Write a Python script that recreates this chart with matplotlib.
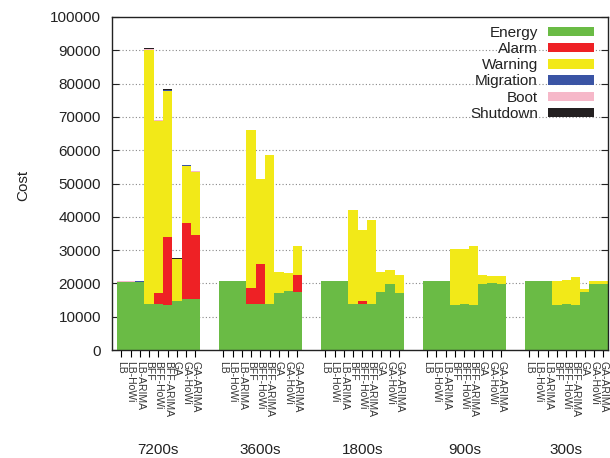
import matplotlib
matplotlib.use("Agg")
import matplotlib.pyplot as plt
from matplotlib.patches import Patch
import numpy as np

plt.rcParams['font.family'] = ['Liberation Sans', 'DejaVu Sans']

groups = ["7200s", "3600s", "1800s", "900s", "300s"]
methods = ["LB", "LB-HoWi", "LB-ARIMA", "BFF", "BFF-HoWi", "BFF-ARIMA",
           "GA", "GA-HoWi", "GA-ARIMA"]
series_names = ["Energy", "Alarm", "Warning", "Migration", "Boot", "Shutdown"]
colors = ["#6abb45", "#ee2125", "#f2e918", "#3a54a4", "#f6b8c9", "#231f20"]

# values per group, 9 bars each (order as methods)
energy = [
    [20500, 20500, 20500, 13800, 13800, 13500, 14700, 15300, 15300],
    [20700, 20700, 20700, 13900, 13900, 13700, 17200, 17700, 17500],
    [20700, 20700, 20700, 13800, 13800, 13800, 17400, 19800, 17100],
    [20700, 20700, 20700, 13500, 13800, 13500, 19800, 20100, 19800],
    [20700, 20700, 20700, 13500, 13800, 13500, 17400, 19800, 19800],
]
alarm = [
    [0, 0, 0, 0, 3300, 20400, 0, 22900, 19200],
    [0, 0, 0, 4700, 12000, 0, 0, 0, 5000],
    [0, 0, 0, 0, 900, 0, 0, 0, 0],
    [0, 0, 0, 0, 0, 0, 0, 0, 0],
    [0, 0, 0, 0, 0, 0, 0, 0, 0],
]
warning = [
    [0, 0, 0, 76200, 51700, 43900, 12500, 17100, 19000],
    [0, 0, 0, 47500, 25500, 44900, 6200, 5400, 8700],
    [0, 0, 0, 28200, 21300, 25200, 6000, 4200, 5400],
    [0, 0, 0, 16800, 16500, 17700, 2700, 2100, 2400],
    [0, 0, 0, 7200, 7200, 8400, 900, 900, 900],
]
migration = [
    [0, 0, 150, 200, 0, 300, 150, 150, 100],
    [0, 0, 0, 0, 0, 0, 0, 0, 0],
    [0, 0, 0, 0, 0, 0, 0, 0, 0],
    [0, 0, 0, 0, 0, 0, 0, 0, 0],
    [0, 0, 0, 0, 0, 0, 0, 0, 0],
]
boot = [
    [300, 200, 0, 300, 400, 0, 0, 0, 300],
    [150, 150, 150, 0, 0, 0, 0, 0, 0],
    [100, 100, 100, 0, 0, 0, 0, 0, 0],
    [100, 100, 100, 0, 0, 0, 0, 0, 0],
    [100, 100, 100, 0, 0, 0, 0, 0, 0],
]
shutdown = [
    [0, 0, 0, 300, 0, 300, 150, 100, 0],
    [0, 0, 0, 0, 0, 0, 0, 0, 0],
    [0, 0, 0, 0, 0, 0, 0, 0, 0],
    [0, 0, 0, 0, 0, 0, 0, 0, 0],
    [0, 0, 0, 0, 0, 0, 0, 0, 0],
]

all_series = [energy, alarm, warning, migration, boot, shutdown]

fig = plt.figure(figsize=(6.1, 4.58), dpi=100)
ax = fig.add_axes([112/610, 1-350/458, (608-112)/610, (350-17)/458])

period = len(methods) + 2
xs_all = []
for g in range(len(groups)):
    xs = np.arange(len(methods)) + g * period
    xs_all.extend(xs)
    bottom = np.zeros(len(methods))
    for s, col in zip(all_series, colors):
        vals = np.array(s[g], dtype=float)
        ax.bar(xs, vals, width=1.0, bottom=bottom, color=col,
               edgecolor='none', linewidth=0, zorder=2)
        bottom += vals

ax.set_xlim(-1.0, (len(groups)-1) * period + len(methods) - 0.5)
ax.set_ylim(0, 100000)
ax.set_yticks(np.arange(0, 100001, 10000))
ax.set_yticklabels([str(v) for v in range(0, 100001, 10000)], fontsize=11)
ax.tick_params(axis='y', direction='in', length=5, pad=8, right=True,
               width=0.8, colors='#222222', labelcolor='#222222')
ax.set_xticks(xs_all)
ax.set_xticklabels(methods * len(groups), rotation=270, fontsize=7.5,
                   va='top', ha='center', color='#333333')
ax.tick_params(axis='x', direction='out', length=5, pad=3, width=0.8)

for v in range(10000, 100000, 10000):
    ax.axhline(v, color='#888888', linestyle=(0, (1, 2)), linewidth=0.8, zorder=1)

for sp in ax.spines.values():
    sp.set_color('#222222')
    sp.set_linewidth(1.0)

for g, name in enumerate(groups):
    cx = g * period + (len(methods) - 1) / 2
    ax.text(cx, -0.0, name, transform=ax.get_xaxis_transform(),
            ha='center', va='center', fontsize=11, color='#222222')
# reposition group labels in figure coordinates
for t in ax.texts:
    x_disp = ax.get_xaxis_transform().transform((t.get_position()[0], 0))[0]
    t.set_transform(fig.transFigure)
    t.set_position((x_disp / fig.dpi / 6.1, 1 - 450/458))

fig.text(23/610, 1 - 185/458, "Cost", rotation=90, ha='center', va='center',
         fontsize=11, color='#222222')

handles = [Patch(facecolor=c, edgecolor='none') for c in colors]
leg = ax.legend(handles, series_names, loc='upper right', frameon=False,
                markerfirst=False, fontsize=11, handlelength=3.0,
                handleheight=0.55, labelspacing=0.14, handletextpad=0.7,
                borderaxespad=0.3, bbox_to_anchor=(0.994, 1.005))
for t in leg.get_texts():
    t.set_color('#222222')

fig.savefig("out.png", dpi=100)
